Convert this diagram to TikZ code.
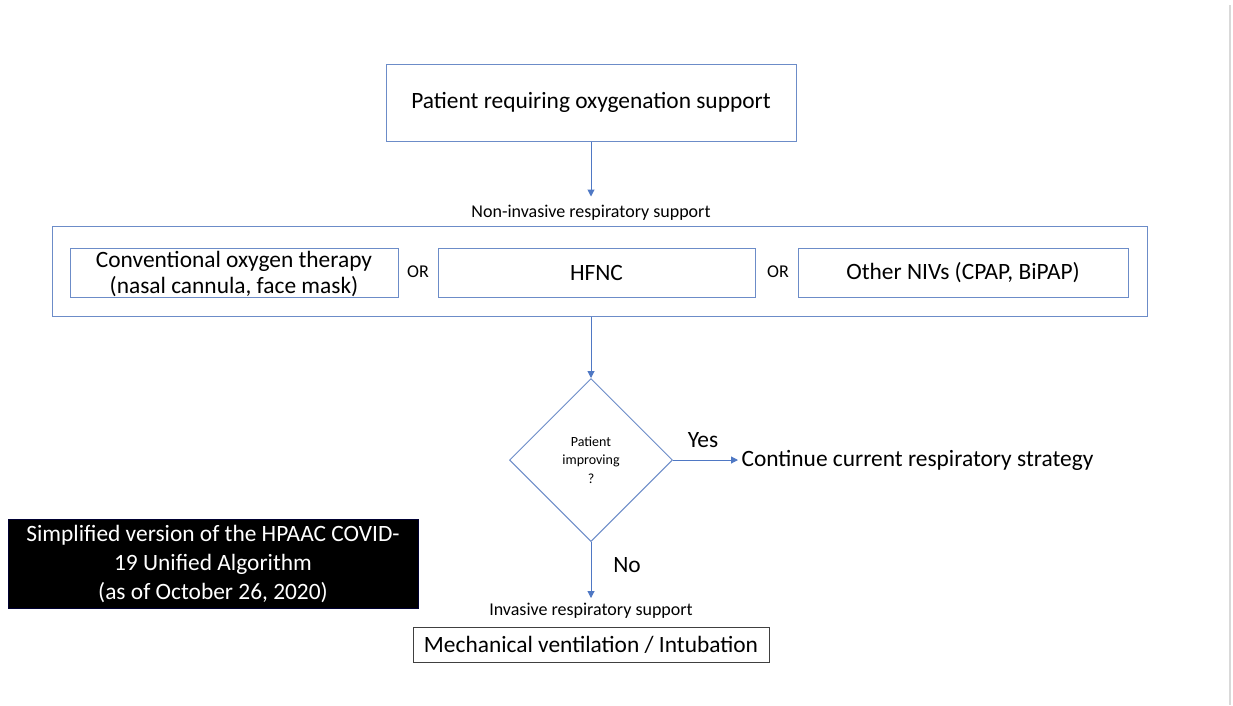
\documentclass[tikz,border=0pt]{standalone}
\usepackage{fontspec}
\setmainfont{Carlito}
\usetikzlibrary{shapes.geometric,arrows.meta}
\definecolor{lineblue}{HTML}{4F78C4}
\definecolor{boxblue}{HTML}{6C8CC8}
\tikzset{
  bbox/.style={draw=boxblue,line width=1pt,inner sep=0pt,align=center},
  arr/.style={draw=lineblue,line width=1pt,-{Triangle[width=7pt,length=7pt]}},
  big/.style={font=\fontsize{23.4}{27}\selectfont},
  small/.style={font=\fontsize{18}{20}\selectfont},
}
\begin{document}
\begin{tikzpicture}[x=1pt,y=-1pt]
\useasboundingbox (0,0) rectangle (1233,705);
\fill[white] (0,0) rectangle (1233,705);
\draw[gray!30,line width=1.2pt] (1230,5) -- (1230,705);

\node[bbox,big,minimum width=410,minimum height=77] (top) at (591,102.5) {Patient requiring oxygenation support};
\node[small] (nonlab) at (591,213) {Non-invasive respiratory support};
\node[bbox,minimum width=1095,minimum height=90] (nis) at (599.5,271) {};
\node[bbox,minimum width=328,minimum height=49] (cot) at (234,272.5) {};
\node[font=\fontsize{23.4}{26.5}\selectfont,align=center,inner sep=0pt] (cottext) at (234,274) {Conventional oxygen therapy\\(nasal cannula, face mask)};
\node[small] (or1) at (418,272) {OR};
\node[bbox,big,minimum width=317,minimum height=49] (hfnc) at (596.5,272.5) {HFNC};
\node[small] (or2) at (778,272) {OR};
\node[bbox,big,minimum width=330,minimum height=49] (niv) at (963,272.5) {Other NIVs (CPAP, BiPAP)};

\node[draw=boxblue,line width=1pt,shape=diamond,minimum width=163,minimum height=163,inner sep=0pt,align=center,font=\fontsize{14}{18.5}\selectfont] (dec) at (591,460) {Patient\\improving\\?};
\node[big,anchor=west] (cont) at (738,460) {Continue current respiratory strategy};
\node[big] (yes) at (703,440) {Yes};
\node[big] (no) at (627,565) {No};
\node[small] (invlab) at (591,611) {Invasive respiratory support};
\node[draw=black!75,line width=1pt,big,minimum width=356,minimum height=35,inner sep=0pt] (mech) at (591,644.5) {Mechanical ventilation / Intubation};

\node[fill=black,draw=black!80!blue,line width=0.8pt,text=white,align=center,minimum width=410,minimum height=89,inner sep=0pt,font=\fontsize{23.4}{29}\selectfont] (note) at (213,563.5) {Simplified version of the HPAAC COVID-\\19 Unified Algorithm\\(as of October 26, 2020)};

\draw[arr] (top.south) -- ++(0,55) coordinate (a1);
\draw[arr] (nis.south -| dec.north) -- (dec.north);
\draw[arr] (dec.east) -- (cont.west);
\draw[arr] (dec.south) -- ++(0,56) coordinate (a2);
\end{tikzpicture}
\end{document}
